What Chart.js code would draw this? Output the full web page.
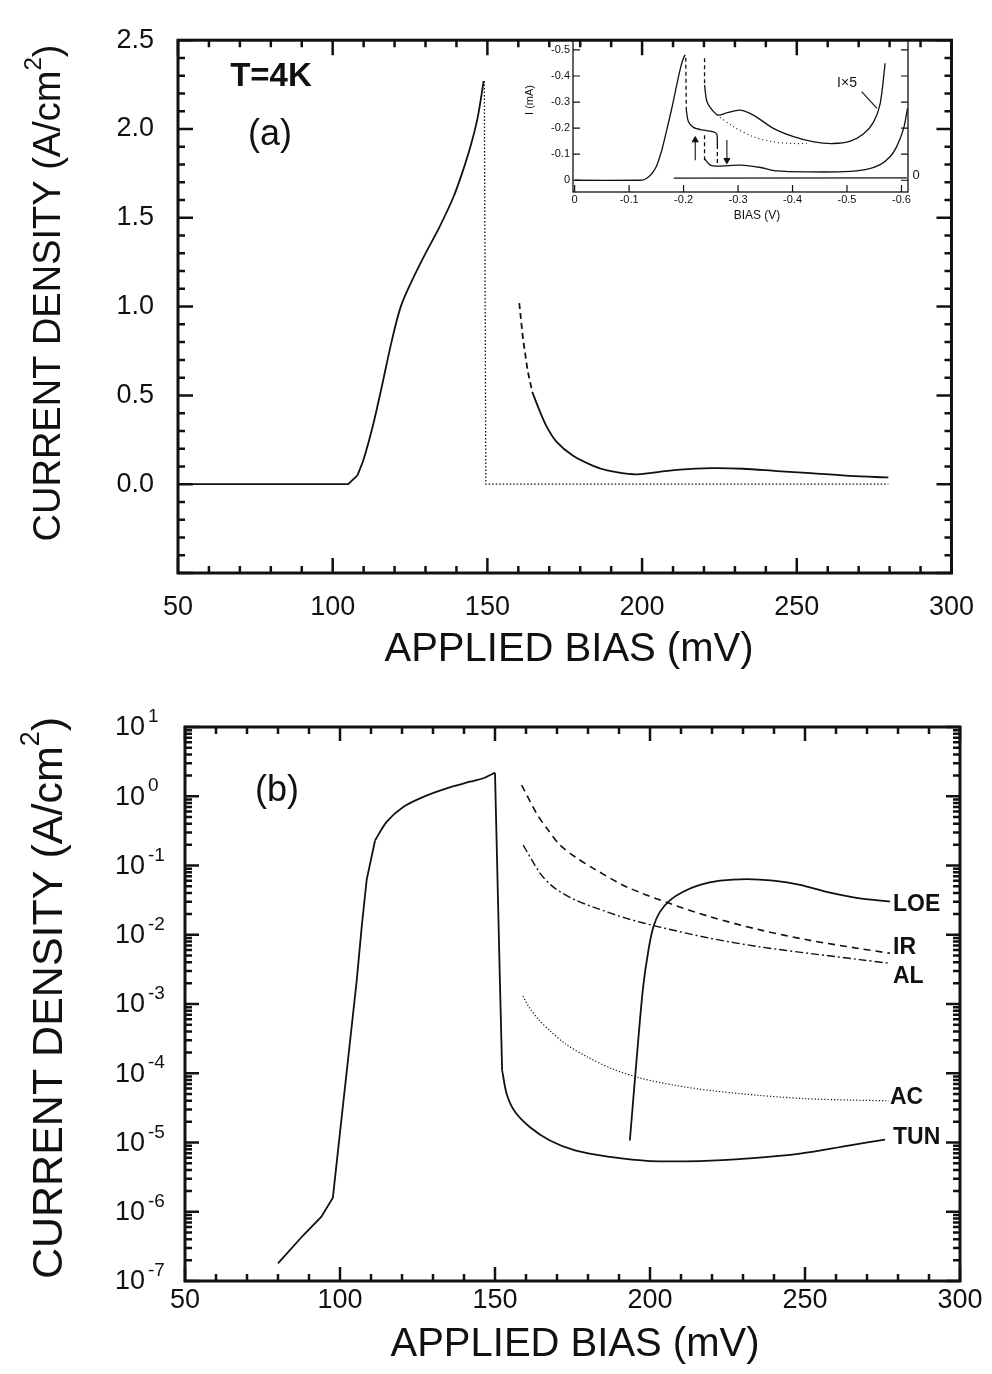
<!DOCTYPE html>
<html><head><meta charset="utf-8">
<script src="https://cdn.jsdelivr.net/npm/chart.js@4.4.0/dist/chart.umd.min.js"></script>
<style>
html,body{margin:0;padding:0;background:#fff;}
#wrap{position:relative;width:992px;height:1374px;overflow:hidden;background:#fff;}
canvas{position:absolute;}
</style></head><body>
<div id="wrap">
<canvas id="cTop" width="992" height="680" style="left:0;top:0"></canvas>
<canvas id="cInset" width="440" height="200" style="left:500px;top:28px"></canvas>
<canvas id="cBot" width="992" height="694" style="left:0;top:680px"></canvas>
</div>
<script>
// ---------------- DATA : panel (a) linear ----------------
const aFlatBias = [50, 105, 108];
const aFlatJ    = [0, 0, 0.05];
const aRiseBias = [108, 110, 113, 116, 119, 122, 126, 130, 134.3, 139.1, 141.8, 144.5, 146.8, 148.8];
const aRiseJ    = [0.05, 0.14, 0.33, 0.56, 0.8, 1.0, 1.16, 1.3, 1.44, 1.62, 1.75, 1.9, 2.06, 2.27];
const aDashBias = [160.3, 161.5, 163, 164.5];
const aDashJ    = [1.02, 0.82, 0.64, 0.52];
const aTailBias = [164.5, 166.5, 169, 172.3, 177.7, 184, 188.7, 197.3, 204.4, 212.2, 222.4, 232.6, 243.6, 254.5, 267.1, 279.6];
const aTailJ    = [0.52, 0.43, 0.33, 0.24, 0.16, 0.105, 0.078, 0.056, 0.067, 0.082, 0.09, 0.087, 0.074, 0.062, 0.047, 0.038];
const aDotBias  = [149, 149.5, 279.6];
const aDotJ     = [2.27, 0, 0];
const aXMajor = [50, 100, 150, 200, 250, 300];
const aYMajor = [-0.5, 0, 0.5, 1.0, 1.5, 2.0, 2.5];

// ---------------- DATA : inset I-V (V, mA) ----------------
const inRiseV = [0, -0.12, -0.127, -0.133, -0.139, -0.145, -0.151, -0.160, -0.169, -0.179, -0.188, -0.195, -0.200, -0.203];
const inRiseI = [0, 0, -0.002, -0.009, -0.019, -0.035, -0.058, -0.115, -0.192, -0.282, -0.372, -0.436, -0.47, -0.481];
const inDrop1V = [-0.204, -0.205];
const inDrop1I = [-0.47, -0.269];
const inPlatV = [-0.205, -0.209, -0.218, -0.237, -0.255, -0.261, -0.262];
const inPlatI = [-0.269, -0.224, -0.203, -0.192, -0.186, -0.177, -0.135];
const inJump1V = [-0.2385, -0.2385];
const inJump1I = [-0.173, -0.077];
const inJump2V = [-0.262, -0.262];
const inJump2I = [-0.135, -0.054];
const inLowV = [-0.2385, -0.249, -0.262, -0.282, -0.304, -0.341, -0.371, -0.432, -0.494, -0.536, -0.561, -0.579, -0.591, -0.604, -0.611];
const inLowI = [-0.083, -0.058, -0.054, -0.056, -0.058, -0.049, -0.036, -0.032, -0.033, -0.042, -0.060, -0.090, -0.128, -0.199, -0.276];
const inX5DashV = [-0.2385, -0.2385];
const inX5DashI = [-0.468, -0.372];
const inX5V = [-0.2385, -0.243, -0.255, -0.264, -0.280, -0.304, -0.328, -0.365, -0.402, -0.439, -0.475, -0.506, -0.530, -0.549, -0.561, -0.570];
const inX5I = [-0.365, -0.301, -0.263, -0.25, -0.259, -0.269, -0.25, -0.199, -0.167, -0.147, -0.141, -0.15, -0.177, -0.224, -0.295, -0.449];
const inDotV = [-0.261, -0.292, -0.328, -0.365, -0.402, -0.426];
const inDotI = [-0.25, -0.205, -0.167, -0.147, -0.141, -0.141];
const inBaseV = [-0.182, -0.61];
const inBaseI = [-0.008, -0.009];
const inLeadV = [-0.527, -0.555];
const inLeadI = [-0.34, -0.276];
const inUpV = [-0.2214, -0.2214];
const inUpI = [-0.077, -0.154];
const inDownV = [-0.2795, -0.2795];
const inDownI = [-0.154, -0.077];
const inXTicks = [0, -0.1, -0.2, -0.3, -0.4, -0.5, -0.6];
const inYTicks = [0, -0.1, -0.2, -0.3, -0.4, -0.5];

// ---------------- DATA : panel (b) log ----------------
const bLeftBias = [80, 88, 94, 97.7, 100, 102.5, 104, 105.4, 107, 108.6, 111.3];
const bLeftJ    = [1.8e-7, 4.5e-7, 8.5e-7, 1.6e-6, 1.4e-5, 1.45e-4, 5.9e-4, 2.2e-3, 1.3e-2, 6.2e-2, 0.23];
const bTopBias  = [111.3, 115.1, 120.4, 126.9, 134.4, 141.9, 146.2, 150];
const bTopJ     = [0.23, 0.43, 0.70, 0.98, 1.3, 1.62, 1.82, 2.19];
const bDropBias = [150, 151.6, 152.3];
const bDropJ    = [2.19, 2.0e-3, 1.1e-4];
const bValleyBias = [152.3, 153.9, 156.5, 161.3, 167.7, 175.8, 187.1, 200, 216, 232, 248.4, 264.5, 275.8];
const bValleyJ    = [1.1e-4, 4.8e-5, 2.75e-5, 1.66e-5, 1.07e-5, 7.7e-6, 6.2e-6, 5.4e-6, 5.4e-6, 5.9e-6, 6.9e-6, 9.1e-6, 1.1e-5];
const bLoeBias = [193.5, 196.2, 197.8, 199.5, 201.1, 203.2, 206.5, 210.7, 216.1, 222.6, 231.2, 239.8, 248.4, 257, 267.7, 277.4];
const bLoeJ    = [1.07e-5, 3.0e-4, 1.78e-3, 6.0e-3, 1.3e-2, 2.14e-2, 3.16e-2, 4.17e-2, 5.25e-2, 6.03e-2, 6.35e-2, 6.03e-2, 5.25e-2, 4.17e-2, 3.34e-2, 3.02e-2];
const bIrBias = [158.6, 163.4, 167, 171, 176, 181.7, 192.5, 206.5, 219.4, 235.5, 251.6, 267.7, 277.4];
const bIrJ    = [1.45, 0.566, 0.331, 0.197, 0.132, 0.091, 0.049, 0.0282, 0.0182, 0.01175, 0.0083, 0.0063, 0.0054];
const bAlBias = [159.1, 164.5, 168, 171, 176, 181.7, 192.5, 203.2, 219.4, 235.5, 251.6, 267.7, 276.9];
const bAlJ    = [0.197, 0.0776, 0.0525, 0.0417, 0.0316, 0.0251, 0.0172, 0.0129, 0.0089, 0.00668, 0.00537, 0.00437, 0.00389];
const bAcBias = [159, 161, 164, 168, 173, 180, 188, 197, 208, 220, 235, 250, 265, 277];
const bAcJ    = [1.3e-3, 9e-4, 6e-4, 4e-4, 2.6e-4, 1.7e-4, 1.15e-4, 8.5e-5, 6.7e-5, 5.6e-5, 4.8e-5, 4.3e-5, 4.1e-5, 4.0e-5];
const bDecades = [-7, -6, -5, -4, -3, -2, -1, 0, 1];
const bMinorMult = [2, 3, 4, 5, 6, 7, 8, 9];

// ---------------- helpers ----------------
const FONT = "'Liberation Sans', Arial, Helvetica, sans-serif";
Chart.defaults.font.family = FONT;
Chart.defaults.color = '#111';
const INK = '#111';

function pts(xs, ys) { return xs.map((x, i) => ({x: x, y: ys[i]})); }
function line(xs, ys, extra) {
  return Object.assign({data: pts(xs, ys), showLine: true, borderColor: INK, backgroundColor: INK,
    borderWidth: 1.8, pointRadius: 0, fill: false, tension: 0}, extra || {});
}
function near(a, b) { return Math.abs(a - b) < 1e-7; }
function range(a, b, step) { const out = []; const n = Math.round((b - a) / step); for (let i = 0; i <= n; i++) out.push(+(a + i * step).toFixed(6)); return out; }

const framePlugin = {
  id: 'frameTicks',
  afterDatasetsDraw(chart, args, o) {
    const ctx = chart.ctx, a = chart.chartArea;
    const xs = chart.scales.x, ys = chart.scales.y;
    ctx.save();
    ctx.strokeStyle = INK;
    ctx.lineCap = 'butt';
    ctx.lineWidth = o.tickWidth;
    ctx.beginPath();
    xs.ticks.forEach(t => {
      const p = xs.getPixelForValue(t.value);
      const L = t.major ? o.majorLen : o.minorLen;
      if (o.bottom) { ctx.moveTo(p, a.bottom); ctx.lineTo(p, a.bottom - L); }
      if (o.top) { ctx.moveTo(p, a.top); ctx.lineTo(p, a.top + L); }
    });
    ys.ticks.forEach(t => {
      const p = ys.getPixelForValue(t.value);
      const L = t.major ? o.majorLen : o.minorLen;
      if (o.left) { ctx.moveTo(a.left, p); ctx.lineTo(a.left + L, p); }
      if (o.right) { ctx.moveTo(a.right, p); ctx.lineTo(a.right - L, p); }
    });
    ctx.stroke();
    ctx.lineWidth = o.frameWidth;
    ctx.strokeRect(a.left, a.top, a.right - a.left, a.bottom - a.top);
    ctx.restore();
  }
};

const textPlugin = {
  id: 'richText',
  afterDraw(chart, args, o) {
    const ctx = chart.ctx;
    (o.items || []).forEach(it => {
      ctx.save();
      ctx.fillStyle = INK;
      ctx.translate(it.x, it.y);
      if (it.rot) ctx.rotate(it.rot);
      let w = 0;
      it.parts.forEach(p => { ctx.font = p.font; p.w = ctx.measureText(p.t).width; w += p.w; });
      let cx = it.align === 'left' ? 0 : (it.align === 'right' ? -w : -w / 2);
      ctx.textBaseline = 'middle';
      ctx.textAlign = 'left';
      it.parts.forEach(p => { ctx.font = p.font; ctx.fillText(p.t, cx, p.dy || 0); cx += p.w; });
      ctx.restore();
    });
  }
};

const logLabelPlugin = {
  id: 'logLabels',
  afterDraw(chart, args, o) {
    const ys = chart.scales.y, ctx = chart.ctx;
    bDecades.forEach(e => {
      const py = ys.getPixelForValue(Math.pow(10, e));
      ctx.save();
      ctx.fillStyle = INK;
      ctx.textBaseline = 'middle';
      ctx.font = '27px ' + FONT;
      ctx.textAlign = 'right';
      ctx.fillText('10', o.x, py + 1);
      ctx.font = '19px ' + FONT;
      ctx.textAlign = 'left';
      ctx.fillText(e < 0 ? '-' + (-e) : String(e), o.x + 3, py - 10);
      ctx.restore();
    });
  }
};

function f(size, bold) { return (bold ? 'bold ' : '') + size + 'px ' + FONT; }
function yTitle(x, y, size) {
  return {x: x, y: y, rot: -Math.PI / 2, parts: [
    {t: 'CURRENT DENSITY (A/cm', font: f(size)},
    {t: '2', font: f(Math.round(size * 0.62)), dy: -Math.round(size * 0.42)},
    {t: ')', font: f(size)}
  ]};
}
const baseOpts = {responsive: false, animation: false, devicePixelRatio: 1, events: []};

// ---------------- Chart (a) ----------------
const aXTicks = range(50, 300, 10);
const aYTicks = range(-0.5, 2.5, 0.1);
new Chart(document.getElementById('cTop'), {
  type: 'scatter',
  data: {datasets: [
    line(aFlatBias, aFlatJ),
    line(aRiseBias, aRiseJ, {tension: 0.3}),
    line(aDashBias, aDashJ, {borderDash: [6, 4]}),
    line(aTailBias, aTailJ, {tension: 0.3}),
    line(aDotBias, aDotJ, {borderWidth: 1.3, borderDash: [1.5, 2]})
  ]},
  options: Object.assign({}, baseOpts, {
    layout: {padding: {top: 20, right: 39, bottom: 0, left: 0}},
    plugins: {
      legend: {display: false}, tooltip: {enabled: false},
      frameTicks: {left: true, right: true, top: true, bottom: true, majorLen: 15, minorLen: 7, tickWidth: 2.5, frameWidth: 3},
      richText: {items: [
        {x: 271, y: 77, parts: [{t: 'T=4K', font: f(33, true)}]},
        {x: 270, y: 135, parts: [{t: '(a)', font: f(36)}]},
        {x: 569, y: 650, parts: [{t: 'APPLIED BIAS (mV)', font: f(40)}]},
        yTitle(50, 293, 38)
      ]}
    },
    scales: {
      x: {type: 'linear', min: 50, max: 300,
        grid: {display: false, drawTicks: false}, border: {display: false},
        afterBuildTicks: s => { s.ticks = aXTicks.map(v => ({value: v, major: aXMajor.some(m => near(m, v))})); },
        afterFit: s => { s.height = 107; },
        ticks: {autoSkip: false, maxRotation: 0, minRotation: 0, padding: 18, font: {size: 27}, color: INK,
          callback: v => aXMajor.some(m => near(m, v)) ? String(Math.round(v)) : ''}},
      y: {type: 'linear', min: -0.5, max: 2.5,
        grid: {display: false, drawTicks: false}, border: {display: false},
        afterBuildTicks: s => { s.ticks = aYTicks.map(v => ({value: v, major: aYMajor.some(m => near(m, v))})); },
        afterFit: s => { s.width = 178; },
        ticks: {autoSkip: false, padding: 24, font: {size: 27}, color: INK,
          callback: v => (aYMajor.some(m => near(m, v)) && !near(v, -0.5)) ? v.toFixed(1) : ''}}
    }
  }),
  plugins: [framePlugin, textPlugin]
});

// ---------------- Inset ----------------
const arrowHead = rot => ({pointStyle: 'triangle', pointRadius: c => c.dataIndex === 1 ? 3.5 : 0, pointRotation: rot, borderWidth: 1.1, pointBorderWidth: 1});
new Chart(document.getElementById('cInset'), {
  type: 'scatter',
  data: {datasets: [
    line(inRiseV, inRiseI, {borderWidth: 1.3, tension: 0.25}),
    line(inDrop1V, inDrop1I, {borderWidth: 1.3, borderDash: [4, 3]}),
    line(inPlatV, inPlatI, {borderWidth: 1.3, tension: 0.3}),
    line(inJump1V, inJump1I, {borderWidth: 1.3, borderDash: [4, 3]}),
    line(inJump2V, inJump2I, {borderWidth: 1.3, borderDash: [4, 3]}),
    line(inLowV, inLowI, {borderWidth: 1.3, tension: 0.3}),
    line(inX5DashV, inX5DashI, {borderWidth: 1.3, borderDash: [4, 3]}),
    line(inX5V, inX5I, {borderWidth: 1.3, tension: 0.3}),
    line(inDotV, inDotI, {borderWidth: 1.1, borderDash: [1, 3], tension: 0.3}),
    line(inBaseV, inBaseI, {borderWidth: 1.2}),
    line(inLeadV, inLeadI, {borderWidth: 1.1}),
    line(inUpV, inUpI, arrowHead(0)),
    line(inDownV, inDownI, arrowHead(180))
  ]},
  options: Object.assign({}, baseOpts, {
    layout: {padding: {top: 12, right: 32, bottom: 0, left: 0}},
    plugins: {
      legend: {display: false}, tooltip: {enabled: false},
      frameTicks: {left: true, right: true, top: false, bottom: true, majorLen: 7, minorLen: 7, tickWidth: 1.2, frameWidth: 1.3},
      richText: {items: [
        {x: 257, y: 188, parts: [{t: 'BIAS (V)', font: f(12)}]},
        {x: 30, y: 72, rot: -Math.PI / 2, parts: [{t: 'I (mA)', font: f(11)}]},
        {x: 347, y: 55, parts: [{t: 'I\u00d75', font: f(14)}]},
        {x: 416, y: 147, parts: [{t: '0', font: f(13)}]}
      ]}
    },
    scales: {
      x: {type: 'linear', min: -0.612, max: 0.003, reverse: true,
        grid: {display: false, drawTicks: false}, border: {display: false},
        afterBuildTicks: s => { s.ticks = inXTicks.map(v => ({value: v, major: true})); },
        afterFit: s => { s.height = 36; },
        ticks: {autoSkip: false, maxRotation: 0, padding: 1, font: {size: 11}, color: INK,
          callback: v => near(v, 0) ? '0' : v.toFixed(1)}},
      y: {type: 'linear', min: -0.538, max: 0.045, reverse: true,
        grid: {display: false, drawTicks: false}, border: {display: false},
        afterBuildTicks: s => { s.ticks = inYTicks.map(v => ({value: v, major: true})); },
        afterFit: s => { s.width = 73; },
        ticks: {autoSkip: false, padding: 3, font: {size: 11}, color: INK,
          callback: v => near(v, 0) ? '0' : v.toFixed(1)}}
    }
  }),
  plugins: [framePlugin, textPlugin]
});

// ---------------- Chart (b) ----------------
const bXTicks = range(50, 300, 10);
const bYTicks = [];
bDecades.forEach(e => {
  bYTicks.push({value: Math.pow(10, e), major: true});
  if (e < 1) bMinorMult.forEach(m => bYTicks.push({value: m * Math.pow(10, e), major: false}));
});
new Chart(document.getElementById('cBot'), {
  type: 'scatter',
  data: {datasets: [
    line(bLeftBias, bLeftJ),
    line(bTopBias, bTopJ, {tension: 0.3}),
    line(bDropBias, bDropJ),
    line(bValleyBias, bValleyJ, {tension: 0.35}),
    line(bLoeBias, bLoeJ, {tension: 0.3}),
    line(bIrBias, bIrJ, {borderWidth: 1.6, borderDash: [7, 5], tension: 0.3}),
    line(bAlBias, bAlJ, {borderWidth: 1.4, borderDash: [8, 3, 2, 3], tension: 0.3}),
    line(bAcBias, bAcJ, {borderWidth: 1.2, borderDash: [1.2, 2], tension: 0.3})
  ]},
  options: Object.assign({}, baseOpts, {
    layout: {padding: {top: 47, right: 32, bottom: 0, left: 0}},
    plugins: {
      legend: {display: false}, tooltip: {enabled: false},
      frameTicks: {left: true, right: true, top: true, bottom: true, majorLen: 14, minorLen: 7, tickWidth: 2.5, frameWidth: 3},
      logLabels: {x: 145},
      richText: {items: [
        {x: 277, y: 111, parts: [{t: '(b)', font: f(36)}]},
        {x: 893, y: 225, align: 'left', parts: [{t: 'LOE', font: f(23, true)}]},
        {x: 893, y: 268, align: 'left', parts: [{t: 'IR', font: f(23, true)}]},
        {x: 893, y: 297, align: 'left', parts: [{t: 'AL', font: f(23, true)}]},
        {x: 890, y: 418, align: 'left', parts: [{t: 'AC', font: f(23, true)}]},
        {x: 893, y: 458, align: 'left', parts: [{t: 'TUN', font: f(23, true)}]},
        {x: 575, y: 665, parts: [{t: 'APPLIED BIAS (mV)', font: f(40)}]},
        yTitle(50, 318, 43)
      ]}
    },
    scales: {
      x: {type: 'linear', min: 50, max: 300,
        grid: {display: false, drawTicks: false}, border: {display: false},
        afterBuildTicks: s => { s.ticks = bXTicks.map(v => ({value: v, major: aXMajor.some(m => near(m, v))})); },
        afterFit: s => { s.height = 93; },
        ticks: {autoSkip: false, maxRotation: 0, minRotation: 0, padding: 3, font: {size: 27}, color: INK,
          callback: v => aXMajor.some(m => near(m, v)) ? String(Math.round(v)) : ''}},
      y: {type: 'logarithmic', min: 1e-7, max: 10,
        grid: {display: false, drawTicks: false}, border: {display: false},
        afterBuildTicks: s => { s.ticks = bYTicks.map(t => ({value: t.value, major: t.major})); },
        afterFit: s => { s.width = 185; },
        ticks: {display: false, autoSkip: false}}
    }
  }),
  plugins: [framePlugin, textPlugin, logLabelPlugin]
});
</script>
</body></html>
